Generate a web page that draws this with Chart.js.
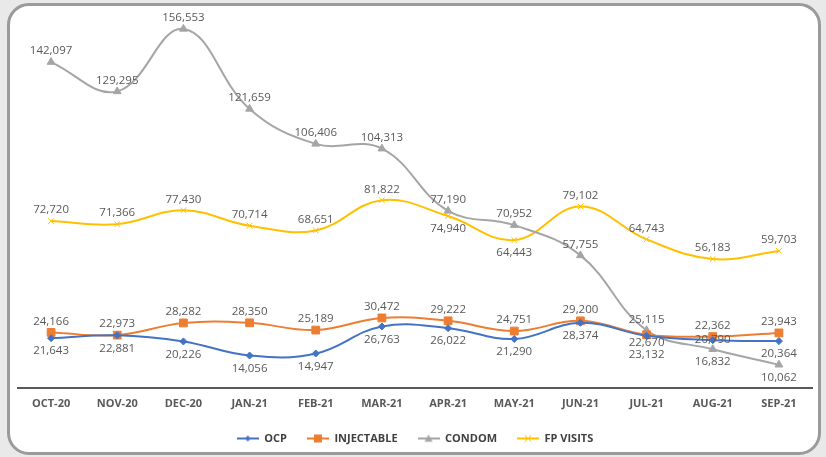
<!DOCTYPE html>
<html>
<head>
<meta charset="utf-8">
<script src="https://cdn.jsdelivr.net/npm/chart.js@4.4.0/dist/chart.umd.min.js"></script>
<style>
  html, body { margin: 0; padding: 0; }
  body { width: 826px; height: 457px; background: #e9e9e9; position: relative; overflow: hidden; }
  #panel { position: absolute; left: 7px; top: 3px; width: 808px; height: 446px; background: #fff;
           border: 3px solid #9a9a9a; border-radius: 22px; }
  #wrap { position: absolute; left: 0; top: 0; width: 826px; height: 457px; }
</style>
</head>
<body>
<div id="panel"></div>
<div id="wrap"><canvas id="chart"></canvas></div>
<script>
const months = ["OCT-20", "NOV-20", "DEC-20", "JAN-21", "FEB-21", "MAR-21", "APR-21", "MAY-21", "JUN-21", "JUL-21", "AUG-21", "SEP-21"];
const ocp = [21643, 22881, 20226, 14056, 14947, 26763, 26022, 21290, 28374, 22670, 20790, 20364];
const injectable = [24166, 22973, 28282, 28350, 25189, 30472, 29222, 24751, 29200, 23132, 22362, 23943];
const condom = [142097, 129295, 156553, 121659, 106406, 104313, 77190, 70952, 57755, 25115, 16832, 10062];
const fpVisits = [72720, 71366, 77430, 70714, 68651, 81822, 74940, 64443, 79102, 64743, 56183, 59703];

// where each value label sits: a = above, b = below, n = just below, B = far below, c = on the point
const ocpPos = ["b", "b", "b", "b", "b", "b", "b", "b", "b", "n", "c", "b"];
const injPos = ["a", "a", "a", "a", "a", "a", "a", "a", "a", "B", "a", "a"];
const condomPos = ["a", "a", "a", "a", "a", "a", "a", "a", "a", "a", "b", "b"];
const fpPos = ["a", "a", "a", "a", "a", "a", "b", "b", "a", "a", "a", "a"];
const shift = { a: -11, b: 13, n: 7, B: 20, c: 0 };

const FONT = "'Open Sans', sans-serif";

function legendIcon(color, style, r) {
  const c = document.createElement("canvas");
  c.width = 22; c.height = 10;
  const g = c.getContext("2d");
  g.strokeStyle = color; g.fillStyle = color; g.lineWidth = 2;
  g.beginPath(); g.moveTo(0, 5); g.lineTo(22, 5); g.stroke();
  g.lineWidth = 1;
  if (style === "diamond") {
    g.beginPath(); g.moveTo(11, 5 - r); g.lineTo(11 + r, 5); g.lineTo(11, 5 + r); g.lineTo(11 - r, 5); g.closePath(); g.fill();
  } else if (style === "square") {
    g.fillRect(11 - r, 5 - r, 2 * r, 2 * r);
  } else if (style === "triangle") {
    g.beginPath(); g.moveTo(11, 5 - r); g.lineTo(11 + r, 5 + r * 0.8); g.lineTo(11 - r, 5 + r * 0.8); g.closePath(); g.fill();
  } else {
    g.beginPath(); g.moveTo(11 - r, 5 - r); g.lineTo(11 + r, 5 + r); g.moveTo(11 + r, 5 - r); g.lineTo(11 - r, 5 + r); g.stroke();
  }
  return c;
}

const icons = [
  legendIcon("#4472c4", "diamond", 3),
  legendIcon("#ed7d31", "square", 4),
  legendIcon("#a5a5a5", "triangle", 4),
  legendIcon("#ffc000", "cross", 3.5)
];
const positions = [ocpPos, injPos, condomPos, fpPos];

const valueLabels = {
  id: "valueLabels",
  afterDatasetsDraw(chart) {
    const ctx = chart.ctx;
    ctx.save();
    ctx.font = "11.5px " + FONT;
    ctx.fillStyle = "#595959";
    ctx.textAlign = "center";
    ctx.textBaseline = "middle";
    chart.data.datasets.forEach((ds, i) => {
      const meta = chart.getDatasetMeta(i);
      meta.data.forEach((pt, j) => {
        const y = pt.y + shift[positions[i][j]];
        ctx.fillText(ds.data[j].toLocaleString("en-US"), pt.x, y);
      });
    });
    ctx.restore();
  }
};

function series(label, data, color, pointStyle, radius) {
  return {
    label: label,
    data: data,
    borderColor: color,
    backgroundColor: color,
    borderWidth: 2,
    pointStyle: pointStyle,
    pointRadius: radius,
    pointBorderWidth: 1,
    pointBorderColor: color,
    pointBackgroundColor: color,
    tension: 0.4
  };
}

new Chart(document.getElementById("chart"), {
  type: "line",
  data: {
    labels: months,
    datasets: [
      series("OCP", ocp, "#4472c4", "rectRot", 3.5),
      series("INJECTABLE", injectable, "#ed7d31", "rect", 5.5),
      series("CONDOM", condom, "#a5a5a5", "triangle", 4.5),
      series("FP VISITS", fpVisits, "#ffc000", "crossRot", 4)
    ]
  },
  options: {
    responsive: true,
    maintainAspectRatio: false,
    animation: false,
    layout: { padding: { left: 18, right: 14, top: 21, bottom: 3 } },
    scales: {
      x: {
        offset: true,
        grid: { display: false },
        border: { display: true, color: "#595959", width: 2 },
        ticks: { color: "#595959", font: { family: FONT, size: 11, weight: "bold" }, padding: 1, maxRotation: 0 },
        afterFit(scale) { scale.height += 2; }
      },
      y: { display: false, min: 0, max: 160000 }
    },
    plugins: {
      tooltip: { enabled: false },
      legend: {
        position: "bottom",
        labels: {
          usePointStyle: true,
          pointStyleWidth: 22,
          padding: 20,
          color: "#404040",
          font: { family: FONT, size: 11, weight: "bold" },
          generateLabels(chart) {
            return chart.data.datasets.map((ds, i) => ({
              text: ds.label,
              pointStyle: icons[i],
              fillStyle: ds.borderColor,
              strokeStyle: ds.borderColor,
              lineWidth: 0,
              fontColor: "#404040",
              datasetIndex: i,
              hidden: false
            }));
          }
        }
      }
    }
  },
  plugins: [valueLabels]
});
</script>
</body>
</html>
